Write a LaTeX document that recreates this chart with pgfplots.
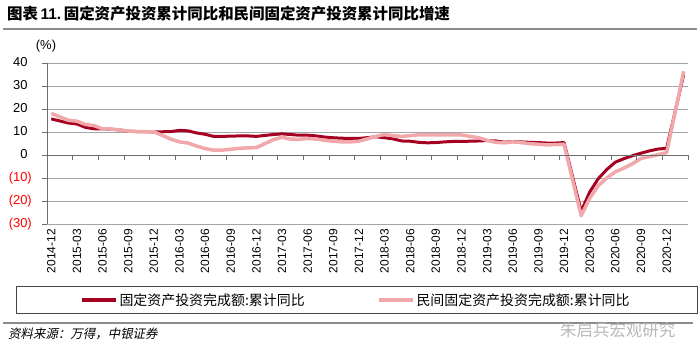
\documentclass[border=0pt]{standalone}
\usepackage{pgfplots}
\usepackage{pgfplotstable}
\pgfplotsset{compat=1.18}
\usepackage{fontspec}
\setmainfont{Liberation Sans}
\newfontfamily\cjk{Noto Sans CJK SC}
\newfontfamily\cjkit{Noto Sans CJK SC}[FakeSlant=0.2]
\definecolor{fai}{RGB}{165,0,33}
\definecolor{pfai}{RGB}{240,168,170}
\definecolor{gridc}{RGB}{165,165,165}
\definecolor{axc}{RGB}{110,110,110}
\definecolor{negred}{RGB}{255,0,0}

% m = months since 2014-12 (January is merged into February)
\pgfplotstableread{
m fai pfai
0 15.7 18.1
2 13.9 15.1
3 13.5 14.7
4 12.0 13.3
5 11.4 12.8
6 11.4 11.4
7 11.2 11.3
8 10.9 10.9
9 10.3 10.4
10 10.2 10.2
11 10.2 10.1
12 10.0 10.1
14 10.2 6.9
15 10.7 5.7
16 10.5 5.2
17 9.6 3.9
18 9.0 2.8
19 8.1 2.1
20 8.1 2.1
21 8.2 2.5
22 8.3 2.9
23 8.3 3.1
24 8.1 3.2
26 8.9 6.7
27 9.2 7.7
28 8.9 6.9
29 8.6 6.8
30 8.6 7.2
31 8.3 6.9
32 7.8 6.4
33 7.5 6.0
34 7.3 5.7
35 7.2 5.7
36 7.2 6.0
38 7.9 8.1
39 7.5 8.9
40 7.0 8.4
41 6.1 8.1
42 6.0 8.4
43 5.5 8.8
44 5.3 8.7
45 5.4 8.7
46 5.7 8.7
47 5.9 8.7
48 5.9 8.7
50 6.1 7.5
51 6.3 6.4
52 6.1 5.5
53 5.6 5.3
54 5.8 5.7
55 5.7 5.4
56 5.5 4.9
57 5.4 4.7
58 5.2 4.4
59 5.2 4.5
60 5.4 4.7
62 -24.5 -26.4
63 -16.1 -18.8
64 -10.3 -13.3
65 -6.3 -10.0
66 -3.1 -7.3
67 -1.6 -5.7
68 -0.3 -3.8
69 0.8 -1.5
70 1.8 -0.7
71 2.6 0.2
72 2.9 1.0
74 35.0 36.4
}\data

\begin{document}
\begin{tikzpicture}
\begin{axis}[
  at={(47bp,136bp)}, anchor=south west,
  scale only axis, width=641bp, height=161bp,
  xmin=0, xmax=75, ymin=-30, ymax=40,
  axis x line*=bottom, axis y line*=left,
  x axis line style={draw=none},
  y axis line style={axc, line width=1bp},
  xtick={0.5,3.5,...,72.5},
  xticklabels={2014-12,2015-03,2015-06,2015-09,2015-12,2016-03,2016-06,2016-09,2016-12,2017-03,2017-06,2017-09,2017-12,2018-03,2018-06,2018-09,2018-12,2019-03,2019-06,2019-09,2019-12,2020-03,2020-06,2020-09,2020-12},
  xtick style={draw=none},
  xticklabel style={rotate=90, anchor=east, inner sep=0pt, font=\fontsize{12}{14}\selectfont},
  ytick={-30,-20,...,40},
  yticklabels={\textcolor{negred}{(30)},\textcolor{negred}{(20)},\textcolor{negred}{(10)},0\phantom{)},10\phantom{)},20\phantom{)},30\phantom{)},40\phantom{)}},
  yticklabel style={anchor=east, inner sep=0pt, xshift=-10bp, font=\fontsize{13}{15}\selectfont},
  tick align=outside, major tick length=5bp,
  ytick style={axc, line width=0.8bp},
  ymajorgrids, major grid style={gridc, line width=0.8bp},
  legend columns=2,
  legend cell align=left,
  legend image code/.code={\draw[#1, line width=4bp] (0bp,0bp) -- (34bp,0bp);},
  legend style={at={(-0.04836,-0.3851)}, anchor=north west,
    draw={rgb,255:red,70;green,70;blue,70}, line width=1bp,
    inner xsep=63bp, inner ysep=7bp, column sep=2bp,
    nodes={inner sep=0pt},
    font=\cjk\fontsize{14}{16}\selectfont},
]
\addplot[fai, line width=3bp, line join=round] table[x expr=\thisrow{m}+0.5, y=fai] {\data};
\addlegendentry{\makebox[255bp][l]{固定资产投资完成额:累计同比}}
\addplot[pfai, line width=3.5bp, line join=round] table[x expr=\thisrow{m}+0.5, y=pfai] {\data};
\addlegendentry{\makebox[218bp][l]{民间固定资产投资完成额:累计同比}}
\end{axis}
\begin{axis}[
  at={(47bp,136bp)}, anchor=south west,
  scale only axis, width=641bp, height=161bp,
  xmin=0, xmax=75, ymin=-30, ymax=40,
  axis x line=middle, axis y line=none,
  x axis line style={axc, line width=1bp, -},
  xtick={0,3,...,75}, xticklabels={},
  tick align=outside, major tick length=5bp,
  xtick style={axc, line width=0.8bp},
]
\end{axis}
\node[inner sep=0pt, font=\fontsize{13}{15}\selectfont] at (46bp,314bp) {(\%)};
\node[anchor=west, inner sep=0pt] at (7bp,346bp) {\fontsize{15.5}{18}\selectfont{\cjk\bfseries 图表}\,{\bfseries 11.}\,{\cjk\bfseries 固定资产投资累计同比和民间固定资产投资累计同比增速}};
\draw[color={rgb,255:red,140;green,140;blue,140}, line width=2bp] (3bp,331bp) -- (697bp,331bp);
\draw[color={rgb,255:red,140;green,140;blue,140}, line width=2bp] (3bp,37bp) -- (693bp,37bp);
\node[anchor=west, inner sep=0pt] at (8bp,26bp) {\cjkit\fontsize{12.5}{14}\selectfont 资料来源：万得，中银证券};
\node[anchor=west, inner sep=0pt, text={rgb,255:red,185;green,185;blue,185}] at (560bp,30bp) {\cjk\fontsize{16.5}{18}\selectfont 朱启兵宏观研究};
\pgfresetboundingbox
\path[use as bounding box] (0,0) rectangle (700bp,360bp);
\end{tikzpicture}
\end{document}
